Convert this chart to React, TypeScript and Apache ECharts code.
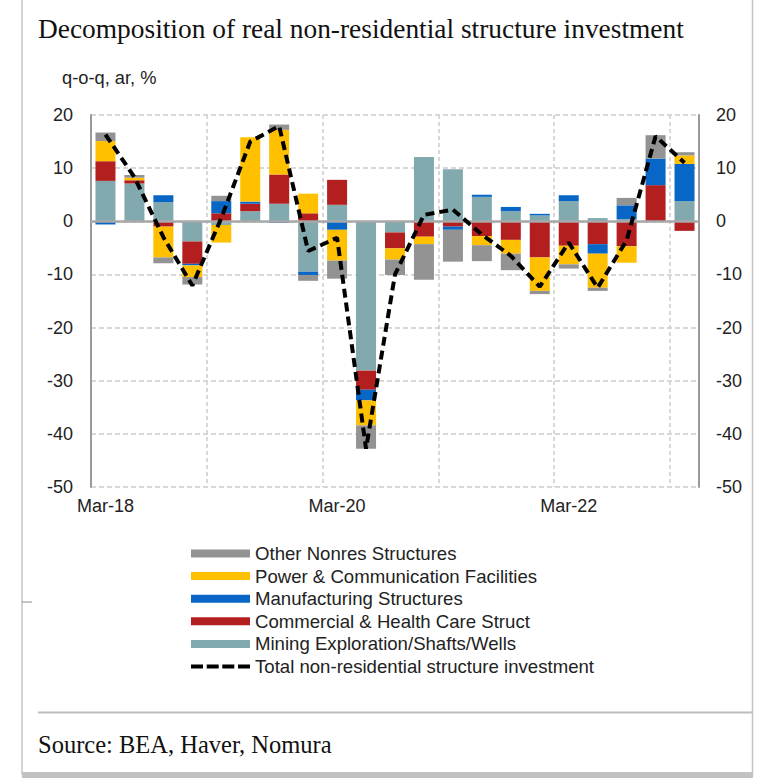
import React, { useEffect, useRef } from "react";
import * as echarts from "echarts";

const categories = [
  "Mar-18", "Jun-18", "Sep-18", "Dec-18", "Mar-19", "Jun-19", "Sep-19", "Dec-19",
  "Mar-20", "Jun-20", "Sep-20", "Dec-20", "Mar-21", "Jun-21", "Sep-21", "Dec-21",
  "Mar-22", "Jun-22", "Sep-22", "Dec-22", "Mar-23",
];

const mining = [7.6, 7.1, 3.6, -3.8, -0.7, 1.9, 3.3, -9.5, 3.1, -28.1, -2.1, 12.1, 9.8, 4.6, 1.9, 1.1, 3.8, 0.6, 0.4, 0, 3.8];
const commercial = [3.7, 0.6, -1.0, -4.2, 1.5, 1.4, 5.5, 1.5, 4.7, -3.6, -3.0, -2.9, -1.0, -2.8, -3.5, -6.8, -4.6, -4.3, -4.7, 6.8, -1.8];
const manufacturing = [-0.6, 0, 1.3, -0.3, 2.3, 0.4, -0.3, -0.6, -1.6, -2.0, 0, 0, -0.6, 0.4, 0.8, 0.3, 1.1, -1.8, 2.6, 5.0, 7.0];
const power = [3.8, 0.5, -5.8, -2.2, -3.3, 12.1, 8.4, 3.7, -5.8, -4.7, -2.1, -1.4, 0, -1.7, -2.6, -6.3, -3.5, -6.4, -3.1, 0, 1.6];
const other = [1.6, 0.5, -1.1, -1.4, 1.0, 0, 1.0, -1.1, -3.4, -4.4, -2.9, -6.7, -6.0, -3.0, -3.1, -0.6, -0.8, -0.6, 1.4, 4.4, 0.6];
const total = [16.3, 8.3, -3.0, -12.1, 0.6, 15.0, 17.9, -5.6, -3.1, -42.8, -10.0, 1.2, 2.2, -2.5, -6.5, -12.3, -4.0, -12.5, -3.6, 16.0, 11.0];

const yTicks = [-50, -40, -30, -20, -10, 0, 10, 20];

const NAMES = {
  other: "Other Nonres Structures",
  power: "Power & Communication Facilities",
  manufacturing: "Manufacturing Structures",
  commercial: "Commercial & Health Care Struct",
  mining: "Mining Exploration/Shafts/Wells",
  total: "Total non-residential structure investment",
};

const COLORS = {
  other: "#939393",
  power: "#ffc000",
  manufacturing: "#0866c6",
  commercial: "#b31f1e",
  mining: "#82a9ae",
};

const SANS = "'Liberation Sans', Arial, sans-serif";
const SERIF = "'Liberation Serif', 'Times New Roman', serif";

const DASH_ICON = "path://M0,0H12V4H0Z M15.7,0H27.7V4H15.7Z M31.3,0H43.3V4H31.3Z M47,0H59V4H47Z";

export default function App() {
  const ref = useRef<HTMLDivElement>(null);

  useEffect(() => {
    if (!ref.current) return;
    const chart = echarts.init(ref.current, null, { renderer: "svg" });

    const yMin = yTicks[0];
    const yMax = yTicks[yTicks.length - 1];
    const yInterval = yTicks[1] - yTicks[0];

    const barSeries = (key: keyof typeof COLORS, data: number[], extra: any = {}) => ({
      name: NAMES[key],
      type: "bar",
      stack: "total",
      data,
      barWidth: 20,
      itemStyle: { color: COLORS[key] },
      emphasis: { disabled: true },
      ...extra,
    });

    const yAxisBase = {
      type: "value",
      min: yMin,
      max: yMax,
      interval: yInterval,
      axisLine: { show: true, lineStyle: { color: "#9a9a9a", width: 2 } },
      axisTick: { show: false },
    };

    const option: any = {
      animation: false,
      grid: { left: 91, right: 73, top: 115, bottom: 297, containLabel: false },
      legend: {
        orient: "vertical",
        left: 191,
        top: 544,
        padding: 0,
        itemWidth: 59,
        itemHeight: 8,
        itemGap: 3.6,
        symbolKeepAspect: true,
        selectedMode: false,
        textStyle: { fontSize: 18.6, fontFamily: SANS, color: "#222", lineHeight: 18 },
        data: [
          { name: NAMES.other, icon: "rect" },
          { name: NAMES.power, icon: "rect" },
          { name: NAMES.manufacturing, icon: "rect" },
          { name: NAMES.commercial, icon: "rect" },
          { name: NAMES.mining, icon: "rect" },
          { name: NAMES.total, icon: DASH_ICON, itemStyle: { color: "#000" } },
        ],
      },
      xAxis: {
        type: "category",
        data: categories,
        boundaryGap: true,
        axisLine: { show: false },
        axisTick: { show: false },
        axisLabel: { interval: 7, margin: 10, fontSize: 18, fontFamily: SANS, color: "#222" },
        splitLine: { show: true, interval: 3, lineStyle: { color: "#cccccc", width: 1.5, type: [4, 3] } },
      },
      yAxis: [
        {
          ...yAxisBase,
          position: "left",
          axisLabel: { margin: 18, fontSize: 18, fontFamily: SANS, color: "#222" },
          splitLine: { show: true, lineStyle: { color: "#cccccc", width: 1.5, type: [5, 3] } },
        },
        {
          ...yAxisBase,
          position: "right",
          axisLabel: { margin: 17, fontSize: 18, fontFamily: SANS, color: "#222" },
          splitLine: { show: false },
        },
      ],
      series: [
        barSeries("mining", mining, {
          markLine: {
            silent: true,
            symbol: "none",
            label: { show: false },
            lineStyle: { color: "#a8a8a8", width: 2.5, type: "solid" },
            data: [{ yAxis: 0 }],
          },
        }),
        barSeries("commercial", commercial),
        barSeries("manufacturing", manufacturing),
        barSeries("power", power),
        barSeries("other", other),
        {
          name: NAMES.total,
          type: "line",
          data: total,
          symbol: "none",
          z: 5,
          color: "#000",
          lineStyle: { color: "#000", width: 4, type: [9, 5], cap: "butt" },
          emphasis: { disabled: true },
        },
      ],
      graphic: [
        {
          type: "text",
          left: 38,
          top: 15,
          style: {
            text: "Decomposition of real non-residential structure investment",
            fontSize: 27.4,
            fontFamily: SERIF,
            fill: "#111",
          },
        },
        {
          type: "text",
          left: 62,
          top: 68,
          style: { text: "q-o-q, ar, %", fontSize: 18.3, fontFamily: SANS, fill: "#222" },
        },
        {
          type: "text",
          left: 38,
          top: 732,
          style: { text: "Source: BEA, Haver, Nomura", fontSize: 24.5, fontFamily: SERIF, fill: "#111" },
        },
        { type: "line", shape: { x1: 22, y1: 0, x2: 22, y2: 775 }, style: { stroke: "#c4c4c4", lineWidth: 1.5 } },
        { type: "line", shape: { x1: 752.5, y1: 0, x2: 752.5, y2: 775 }, style: { stroke: "#c4c4c4", lineWidth: 1.5 } },
        { type: "line", shape: { x1: 22, y1: 602, x2: 32, y2: 602 }, style: { stroke: "#8a8a8a", lineWidth: 1 } },
        { type: "line", shape: { x1: 38, y1: 712.5, x2: 752, y2: 712.5 }, style: { stroke: "#bdbdbd", lineWidth: 2 } },
        { type: "rect", shape: { x: 22, y: 772, width: 731, height: 6 }, style: { fill: "#c2c2c2" } },
      ],
    };

    chart.setOption(option);
    return () => chart.dispose();
  }, []);

  return (
    <div
      ref={ref}
      style={{ position: "fixed", left: 0, top: 0, width: 772, height: 784, background: "#fff" }}
    />
  );
}
